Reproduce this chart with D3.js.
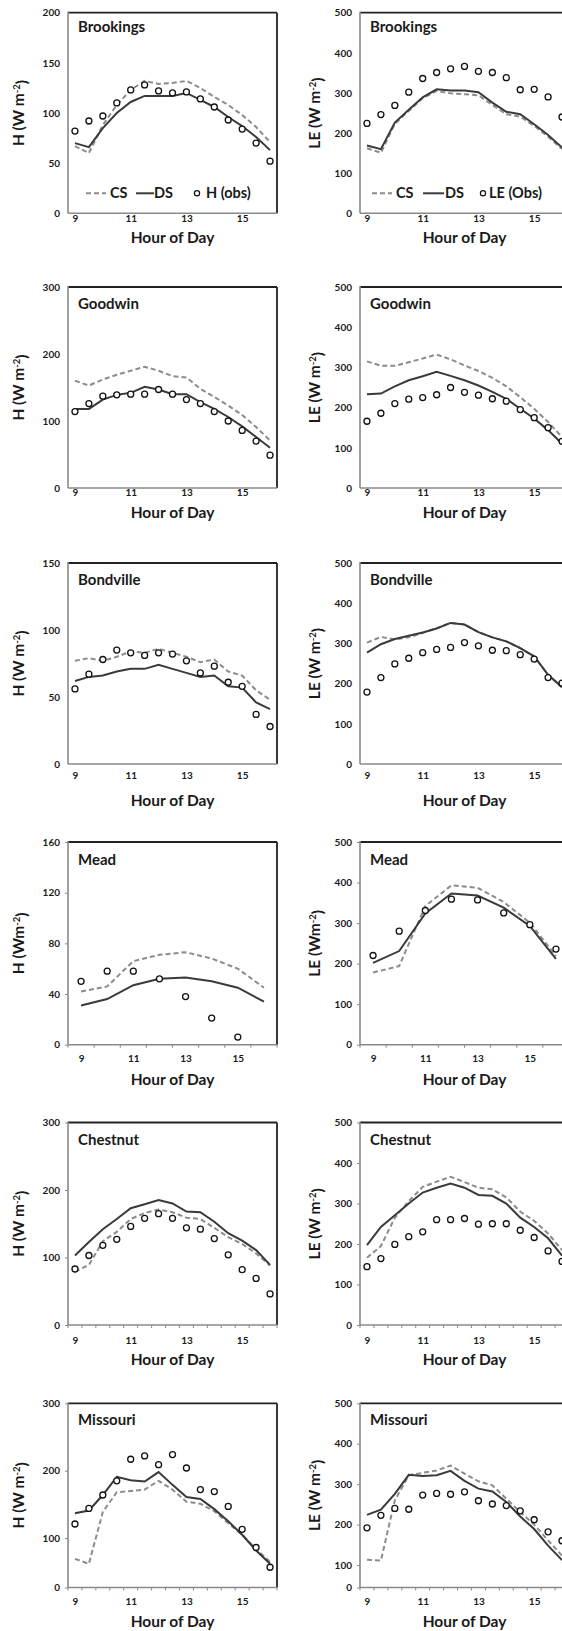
<!DOCTYPE html>
<html>
<head>
<meta charset="utf-8">
<script src="https://cdn.jsdelivr.net/npm/d3@7"></script>
<style>
  body { margin: 0; background: #fff; }
  text { font-family: Lato, "Open Sans", sans-serif; font-weight: bold; fill: #1a1a1a; }
  .axis text { font-size: 10px; }
  .axis line { stroke: #888; }
  .ptitle { font-size: 15px; }
  .xtitle { font-size: 15.5px; }
  .ytitle { font-size: 15.5px; }
  .leg { font-size: 14.5px; }
</style>
</head>
<body>
<div id="chart"></div>
<script>
// x categories
var halfHours = [9, 9.5, 10, 10.5, 11, 11.5, 12, 12.5, 13, 13.5, 14, 14.5, 15, 15.5, 16];
var meadHours = [9, 10, 11, 12, 13, 14, 15, 16];
var meadObsHours = [9, 10, 11, 12, 13, 14, 15];
var hourLabels = [9, 11, 13, 15];

// Brookings
var brookingsH_cs  = [67, 60, 88, 108, 123, 132, 129, 130, 132, 125, 116, 108, 98, 86, 71];
var brookingsH_ds  = [70, 66, 85, 100, 111, 117, 117, 117, 120, 113, 106, 96, 87, 76, 63];
var brookingsH_obs = [82, 92, 97, 110, 123, 128, 122, 120, 121, 114, 106, 93, 84, 70, 52];
var brookingsLE_cs  = [162, 151, 223, 255, 287, 305, 299, 297, 294, 270, 247, 241, 218, 191, 160];
var brookingsLE_ds  = [169, 160, 226, 258, 289, 309, 306, 306, 302, 276, 253, 247, 222, 195, 164];
var brookingsLE_obs = [224, 246, 269, 302, 336, 351, 360, 366, 354, 351, 338, 308, 309, 290, 240];

// Goodwin
var goodwinH_cs  = [160, 153, 162, 169, 175, 181, 175, 167, 165, 148, 136, 123, 109, 91, 71];
var goodwinH_ds  = [118, 118, 132, 139, 142, 151, 147, 140, 140, 128, 118, 106, 92, 76, 60];
var goodwinH_obs = [114, 126, 137, 139, 140, 140, 147, 140, 132, 126, 114, 100, 86, 70, 49];
var goodwinLE_cs  = [315, 304, 304, 313, 322, 332, 320, 305, 291, 274, 253, 226, 197, 164, 127];
var goodwinLE_ds  = [233, 235, 253, 268, 278, 289, 279, 268, 255, 239, 222, 197, 173, 144, 110];
var goodwinLE_obs = [166, 186, 210, 221, 225, 232, 250, 238, 231, 222, 216, 195, 175, 150, 116];

// Bondville
var bondvilleH_cs  = [77, 79, 77, 80, 84, 83, 86, 83, 80, 76, 78, 69, 66, 55, 48];
var bondvilleH_ds  = [62, 65, 66, 69, 71, 71, 74, 71, 68, 65, 66, 58, 57, 46, 41];
var bondvilleH_obs = [56, 67, 78, 85, 83, 81, 83, 82, 77, 68, 73, 61, 58, 37, 28];
var bondvilleLE_cs  = [302, 316, 310, 315, 326, 338, 351, 347, 328, 315, 305, 288, 267, 222, 191];
var bondvilleLE_ds  = [277, 298, 311, 319, 327, 337, 351, 347, 328, 315, 305, 288, 268, 222, 191];
var bondvilleLE_obs = [179, 215, 249, 263, 277, 285, 290, 302, 294, 283, 282, 272, 261, 215, 201];

// Mead (hourly)
var meadH_cs  = [42, 46, 66, 71, 73, 68, 60, 45];
var meadH_ds  = [31, 36, 47, 52, 53, 50, 45, 34];
var meadH_obs = [50, 58, 58, 52, 38, 21, 6];
var meadLE_cs  = [178, 194, 342, 393, 387, 352, 301, 219];
var meadLE_ds  = [202, 231, 324, 373, 368, 338, 293, 212];
var meadLE_obs = [220, 280, 331, 359, 357, 325, 296, 236];

// Chestnut
var chestnutH_cs  = [79, 89, 124, 138, 157, 166, 171, 167, 159, 157, 144, 130, 120, 106, 88];
var chestnutH_ds  = [103, 123, 142, 157, 173, 179, 185, 180, 168, 167, 153, 136, 125, 111, 89];
var chestnutH_obs = [83, 103, 118, 127, 146, 158, 165, 158, 144, 142, 128, 104, 82, 69, 46];
var chestnutLE_cs  = [166, 195, 265, 306, 341, 354, 366, 353, 339, 335, 315, 280, 257, 226, 185];
var chestnutLE_ds  = [197, 242, 271, 300, 327, 339, 349, 339, 321, 319, 300, 265, 242, 214, 171];
var chestnutLE_obs = [144, 164, 199, 218, 230, 260, 260, 263, 249, 250, 250, 234, 216, 183, 157];

// Missouri
var missouriH_cs  = [58, 48, 139, 168, 170, 172, 185, 172, 154, 151, 140, 122, 105, 78, 52];
var missouriH_ds  = [137, 141, 164, 191, 186, 184, 198, 179, 161, 158, 143, 125, 105, 75, 48];
var missouriH_obs = [121, 144, 164, 185, 217, 222, 209, 224, 204, 172, 169, 147, 113, 81, 41];
var missouriLE_cs  = [113, 111, 260, 322, 328, 334, 346, 326, 307, 297, 264, 231, 200, 161, 123];
var missouriLE_ds  = [224, 237, 276, 323, 320, 322, 333, 308, 289, 282, 256, 220, 189, 148, 112];
var missouriLE_obs = [192, 223, 240, 238, 273, 277, 275, 281, 259, 251, 247, 234, 212, 182, 160];

var hTicks200 = [0, 50, 100, 150, 200];
var hTicks300 = [0, 100, 200, 300];
var hTicks150 = [0, 50, 100, 150];
var hTicks160 = [0, 40, 80, 120, 160];
var leTicks = [0, 100, 200, 300, 400, 500];

// layout
var W = 209;
var colLeft = [68, 360];
var colYlab = [19, 315];
var rows = [
  {top: 12.7, bottom: 213.3, pad: 1.5, xt: 30},
  {top: 287, bottom: 488, pad: 0.8, xt: 29.5},
  {top: 563, bottom: 764, pad: 8, xt: 42},
  {top: 842, bottom: 1044.7, pad: 10.5, xt: 40},
  {top: 1122.5, bottom: 1325, pad: 11.5, xt: 40},
  {top: 1403.3, bottom: 1587.5, pad: 10.5, xt: 39}
];

var panels = [
  {row: 0, col: 0, title: "Brookings", yl: ["H (W m", "-2", ")"], ymax: 200, yticks: hTicks200, hours: halfHours, obsHours: halfHours,
   cs: brookingsH_cs, ds: brookingsH_ds, obs: brookingsH_obs, tg: 19.6,
   legend: {label: "H (obs)", dash: [86, 106], cs: 110, solid: [136, 154], ds: 154, circ: 197, text: 206}},
  {row: 0, col: 1, title: "Brookings", yl: ["LE (W m", "-2", ")"], ymax: 500, yticks: leTicks, hours: halfHours, obsHours: halfHours,
   cs: brookingsLE_cs, ds: brookingsLE_ds, obs: brookingsLE_obs, tg: 19.6,
   legend: {label: "LE (Obs)", dash: [372, 392], cs: 396, solid: [423, 444], ds: 445, circ: 483, text: 489}},
  {row: 1, col: 0, title: "Goodwin", yl: ["H (W m", "-2", ")"], ymax: 300, yticks: hTicks300, hours: halfHours, obsHours: halfHours,
   cs: goodwinH_cs, ds: goodwinH_ds, obs: goodwinH_obs, tg: 22},
  {row: 1, col: 1, title: "Goodwin", yl: ["LE (W m", "-2", ")"], ymax: 500, yticks: leTicks, hours: halfHours, obsHours: halfHours,
   cs: goodwinLE_cs, ds: goodwinLE_ds, obs: goodwinLE_obs, tg: 22},
  {row: 2, col: 0, title: "Bondville", yl: ["H (W m", "-2", ")"], ymax: 150, yticks: hTicks150, hours: halfHours, obsHours: halfHours,
   cs: bondvilleH_cs, ds: bondvilleH_ds, obs: bondvilleH_obs, tg: 22},
  {row: 2, col: 1, title: "Bondville", yl: ["LE (W m", "-2", ")"], ymax: 500, yticks: leTicks, hours: halfHours, obsHours: halfHours,
   cs: bondvilleLE_cs, ds: bondvilleLE_ds, obs: bondvilleLE_obs, tg: 22},
  {row: 3, col: 0, title: "Mead", yl: ["H (Wm", "-2", ")"], ymax: 160, yticks: hTicks160, hours: meadHours, obsHours: meadObsHours,
   cs: meadH_cs, ds: meadH_ds, obs: meadH_obs, tg: 22.5, ticks: true},
  {row: 3, col: 1, title: "Mead", yl: ["LE (Wm", "-2", ")"], ymax: 500, yticks: leTicks, hours: meadHours, obsHours: meadHours,
   cs: meadLE_cs, ds: meadLE_ds, obs: meadLE_obs, tg: 22.5, ticks: true},
  {row: 4, col: 0, title: "Chestnut", yl: ["H (W m", "-2", ")"], ymax: 300, yticks: hTicks300, hours: halfHours, obsHours: halfHours,
   cs: chestnutH_cs, ds: chestnutH_ds, obs: chestnutH_obs, tg: 22, ticks: true},
  {row: 4, col: 1, title: "Chestnut", yl: ["LE (W m", "-2", ")"], ymax: 500, yticks: leTicks, hours: halfHours, obsHours: halfHours,
   cs: chestnutLE_cs, ds: chestnutLE_ds, obs: chestnutLE_obs, tg: 22, ticks: true},
  {row: 5, col: 0, title: "Missouri", yl: ["H (W m", "-2", ")"], ymax: 300, yticks: hTicks300, hours: halfHours, obsHours: halfHours,
   cs: missouriH_cs, ds: missouriH_ds, obs: missouriH_obs, tg: 22, ticks: true, yBreak: 0.268},
  {row: 5, col: 1, title: "Missouri", yl: ["LE (W m", "-2", ")"], ymax: 500, yticks: leTicks, hours: halfHours, obsHours: halfHours,
   cs: missouriLE_cs, ds: missouriLE_ds, obs: missouriLE_obs, tg: 22, ticks: true, yBreak: 0.122}
];

var svg = d3.select("#chart").append("svg")
  .attr("width", 562)
  .attr("height", 1631);

function drawPanel(p) {
  var r = rows[p.row];
  var left = colLeft[p.col];
  var top = r.top, bottom = r.bottom;
  var g = svg.append("g");

  var x = d3.scalePoint().domain(p.hours).range([left, left + W]).padding(0.5);
  var y;
  if (p.yBreak) {
    // the lowest part of this axis is squeezed in the original figure
    y = d3.scaleLinear().domain([0, 100, p.ymax])
      .range([bottom, bottom - p.yBreak * (bottom - top), top]);
  } else {
    y = d3.scaleLinear().domain([0, p.ymax]).range([bottom, top]);
  }

  var tk = p.ticks ? 3 : 0;
  var ya = g.append("g").attr("class", "axis")
    .attr("transform", "translate(" + left + ",0)")
    .call(d3.axisLeft(y).tickValues(p.yticks).tickSize(tk).tickPadding(8 - tk));
  ya.select(".domain").remove();

  var xa = g.append("g").attr("class", "axis")
    .attr("transform", "translate(0," + bottom + ")")
    .call(d3.axisBottom(x).tickValues(hourLabels).tickSize(0).tickPadding(r.pad));
  xa.select(".domain").remove();

  if (p.ticks) {
    var st = x.step();
    var bounds = p.hours.map(function(h) { return x(h) - st / 2; });
    bounds.push(x(p.hours[p.hours.length - 1]) + st / 2);
    g.selectAll(".btick").data(bounds).join("line")
      .attr("x1", function(d) { return d; }).attr("x2", function(d) { return d; })
      .attr("y1", bottom).attr("y2", bottom + 3)
      .attr("stroke", "#888").attr("stroke-width", 1);
  }

  // frame
  g.append("line").attr("x1", left).attr("x2", left + W).attr("y1", top).attr("y2", top)
    .attr("stroke", "#222").attr("stroke-width", 1.8);
  g.append("line").attr("x1", left + W).attr("x2", left + W).attr("y1", top).attr("y2", bottom)
    .attr("stroke", "#222").attr("stroke-width", 1.8);
  g.append("line").attr("x1", left).attr("x2", left).attr("y1", top - 0.9).attr("y2", bottom)
    .attr("stroke", "#8a8a8a").attr("stroke-width", 1.6);
  g.append("line").attr("x1", left).attr("x2", left + W).attr("y1", bottom).attr("y2", bottom)
    .attr("stroke", "#8a8a8a").attr("stroke-width", 1.6);

  var line = d3.line()
    .x(function(d, i) { return x(p.hours[i]); })
    .y(function(d) { return y(d); });

  g.append("path").datum(p.cs).attr("d", line)
    .attr("fill", "none").attr("stroke", "#8c8c8c").attr("stroke-width", 2)
    .attr("stroke-dasharray", "5,3");
  g.append("path").datum(p.ds).attr("d", line)
    .attr("fill", "none").attr("stroke", "#3a3a3a").attr("stroke-width", 2);

  g.selectAll(".obs").data(p.obs).join("circle")
    .attr("cx", function(d, i) { return x(p.obsHours[i]); })
    .attr("cy", function(d) { return y(d); })
    .attr("r", 3)
    .attr("fill", "#fff").attr("stroke", "#111").attr("stroke-width", 1.3);

  // titles
  g.append("text").attr("class", "ptitle")
    .attr("x", left + 10).attr("y", top + p.tg).text(p.title);

  g.append("text").attr("class", "xtitle")
    .attr("x", left + W / 2).attr("y", bottom + r.xt)
    .attr("text-anchor", "middle").text("Hour of Day");

  var yl = g.append("text").attr("class", "ytitle")
    .attr("transform", "translate(" + colYlab[p.col] + "," + (top + bottom) / 2 + ") rotate(-90)")
    .attr("text-anchor", "middle").attr("dy", "0.35em");
  yl.append("tspan").text(p.yl[0]);
  yl.append("tspan").attr("dy", "-0.45em").style("font-size", "9.5px").text(p.yl[1]);
  yl.append("tspan").attr("dy", "0.45em").text(p.yl[2]);

  if (p.legend) {
    var L = p.legend, ly = bottom - 20;
    g.append("line").attr("x1", L.dash[0]).attr("x2", L.dash[1]).attr("y1", ly).attr("y2", ly)
      .attr("stroke", "#8c8c8c").attr("stroke-width", 2).attr("stroke-dasharray", "5,3");
    g.append("text").attr("class", "leg").attr("x", L.cs).attr("y", ly + 5).text("CS");
    g.append("line").attr("x1", L.solid[0]).attr("x2", L.solid[1]).attr("y1", ly).attr("y2", ly)
      .attr("stroke", "#3a3a3a").attr("stroke-width", 2);
    g.append("text").attr("class", "leg").attr("x", L.ds).attr("y", ly + 5).text("DS");
    g.append("circle").attr("cx", L.circ).attr("cy", ly).attr("r", 2.6)
      .attr("fill", "#fff").attr("stroke", "#111").attr("stroke-width", 1.2);
    g.append("text").attr("class", "leg").attr("x", L.text).attr("y", ly + 5).text(L.label);
  }
}

panels.forEach(drawPanel);
</script>
</body>
</html>
